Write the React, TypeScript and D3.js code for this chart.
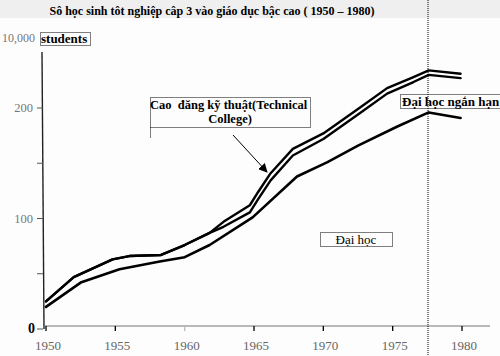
import React from "react";
import * as d3 from "d3";

const W = 500;
const H = 356;

const titleText = "Sô học sinh tôt nghiệp câp 3 vào giáo dục bậc cao ( 1950 – 1980)";
const xTickYears = [1950, 1955, 1960, 1965, 1970, 1975, 1980];
const yTickValues = [0, 100, 200];
const yMinorTicks = [50, 150];

// Đại học (universities)
const uniYears = [1950, 1952.5, 1955.3, 1958.2, 1960, 1961.8, 1964.9, 1968.1, 1970.3, 1972.5, 1975.3, 1977.6, 1979.9];
const uniValues = [20, 42, 54, 61, 65, 76, 101, 138, 151, 166, 183, 196, 191];

// Đại học + Đại học ngắn hạn (universities + junior colleges)
const bandYears = [1950, 1952, 1954.8, 1956, 1958.3, 1960, 1961.8, 1962.8, 1964.7, 1965.3, 1966.2, 1967.8, 1970, 1972.6, 1974.6, 1976.5, 1977.6, 1979.9];
const juniorValues = [25, 47, 63, 66, 67, 76, 87, 92.5, 105.5, 117.5, 134.5, 157, 172, 195, 213, 223.5, 230, 227];
// + Cao đẳng kỹ thuật (technical colleges)
const totalValues = [25, 47, 63, 66, 67, 76, 87, 97, 112, 124, 141, 163, 177, 200, 218, 228, 234, 231];

const dividerYear = 1977.55;

export default function App() {
  const x = d3.scaleLinear().domain([1950, 1980]).range([46, 462]);
  const y = d3.scaleLinear().domain([0, 200]).range([329, 108]);
  const line = d3
    .line<[number, number]>()
    .x((d) => x(d[0]))
    .y((d) => y(d[1]))
    .curve(d3.curveLinear);

  const uni = uniYears.map((yr, i) => [yr, uniValues[i]] as [number, number]);
  const junior = bandYears.map((yr, i) => [yr, juniorValues[i]] as [number, number]);
  const total = bandYears.map((yr, i) => [yr, totalValues[i]] as [number, number]);

  const serif = "'Liberation Serif', 'DejaVu Serif', 'Times New Roman', serif";
  const dotted = { fill: "none", stroke: "#000", strokeWidth: 1, strokeDasharray: "1 1" };

  return (
    <svg width={W} height={H} viewBox={`0 0 ${W} ${H}`} style={{ position: "absolute", left: 0, top: 0, background: "#fdfdfd" }}>
      <defs>
        <marker id="arrowHead" viewBox="0 0 10 10" refX="9" refY="5" markerWidth="9" markerHeight="9" orient="auto" markerUnits="userSpaceOnUse">
          <path d="M0,0 L10,5 L0,10 z" fill="#000" />
        </marker>
      </defs>
      <rect x={0} y={0} width={W} height={H} fill="#fdfdfd" />
      <rect x={0} y={0} width={W} height={18} fill="#efefef" />
      <text x={212} y={15} textAnchor="middle" fontFamily={serif} fontWeight="bold" fontSize={12} fill="#000">
        {titleText}
      </text>

      {/* unit label */}
      <text x={2} y={42} fontFamily={serif} fontSize={12} fill="#777">10,000</text>
      <rect x={40.5} y={32.5} width={50} height={13} {...dotted} />
      <text x={41} y={43} fontFamily={serif} fontWeight="bold" fontSize={13} fill="#000">students</text>

      {/* y axis */}
      <line x1={42} y1={52} x2={44} y2={329} stroke="#222" strokeWidth={1.4} />
      {yTickValues.map((v) => (
        <g key={`yt${v}`}>
          <line x1={37} x2={43} y1={y(v)} y2={y(v)} stroke="#555" strokeWidth={1} />
          <text
            x={v === 0 ? 35 : 33}
            y={y(v) + 4}
            textAnchor="end"
            fontFamily={serif}
            fontSize={v === 0 ? 14 : 12.5}
            fontWeight={v === 0 ? "bold" : "normal"}
            fill={v === 0 ? "#000" : "#777"}
          >
            {v}
          </text>
        </g>
      ))}
      {yMinorTicks.map((v) => (
        <line key={`ym${v}`} x1={37} x2={43} y1={y(v)} y2={y(v)} stroke="#555" strokeWidth={1} />
      ))}

      {/* x axis */}
      <line x1={44} x2={490} y1={326} y2={326} stroke="#777" strokeWidth={1.2} />
      {xTickYears.map((yr) => (
        <g key={`xt${yr}`}>
          <line x1={x(yr)} x2={x(yr)} y1={326} y2={331} stroke={yr === 1960 ? "#bbb" : "#000"} strokeWidth={1.3} />
          <text x={x(yr) + 2} y={350} textAnchor="middle" fontFamily={serif} fontSize={13} fill="#666">
            {yr}
          </text>
        </g>
      ))}

      {/* divider */}
      <line x1={x(dividerYear)} x2={x(dividerYear)} y1={0} y2={H} stroke="#000" strokeWidth={1} strokeDasharray="1 1" />

      {/* series */}
      <path d={line(uni) || ""} fill="none" stroke="#000" strokeWidth={2.6} strokeLinejoin="round" strokeLinecap="round" />
      <path d={line(junior) || ""} fill="none" stroke="#000" strokeWidth={2.4} strokeLinejoin="round" strokeLinecap="round" />
      <path d={line(total) || ""} fill="none" stroke="#000" strokeWidth={2.4} strokeLinejoin="round" strokeLinecap="round" />

      {/* Technical college label */}
      <rect x={150.5} y={97.5} width={160} height={30} {...dotted} />
      <line x1={150.5} x2={150.5} y1={127.5} y2={138} {...dotted} />
      <text x={150} y={109} fontFamily={serif} fontWeight="bold" fontSize={12.5} fill="#000" xmlSpace="preserve">
        {"Cao  đăng kỹ thuật(Technical"}
      </text>
      <text x={230} y={123} textAnchor="middle" fontFamily={serif} fontWeight="bold" fontSize={12.5} fill="#000">
        College)
      </text>
      <line x1={233} y1={135} x2={267} y2={172} stroke="#000" strokeWidth={1} markerEnd="url(#arrowHead)" />

      {/* Junior college label */}
      <rect x={400.5} y={94.5} width={100} height={14} {...dotted} />
      <text x={402} y={105.5} fontFamily={serif} fontWeight="bold" fontSize={13} fill="#000">
        Đại học ngắn hạn
      </text>

      {/* University label */}
      <rect x={320.5} y={232.5} width={72} height={14} {...dotted} />
      <text x={356} y={244} textAnchor="middle" fontFamily={serif} fontSize={13} fill="#000">
        Đại học
      </text>
    </svg>
  );
}
